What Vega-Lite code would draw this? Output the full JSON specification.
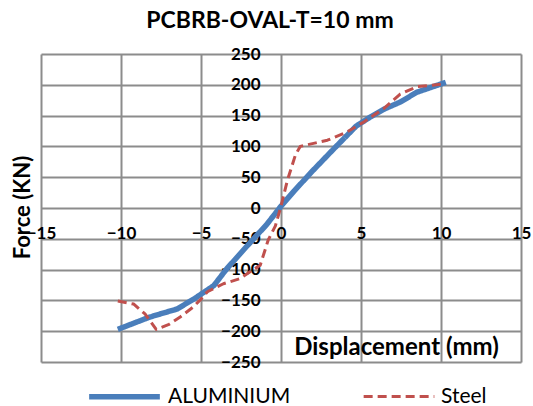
{
  "$schema": "https://vega.github.io/schema/vega-lite/v6.json",
  "autosize": {"type": "none"},
  "width": 480,
  "height": 308,
  "padding": {"left": 41, "top": 54, "right": 12, "bottom": 44},
  "background": "white",
  "title": {"text": "PCBRB-OVAL-T=10 mm", "font": "Lato", "fontSize": 23, "fontWeight": "bold", "color": "#000000", "anchor": "middle", "dx": -11, "offset": 12},
  "config": {
    "view": {"stroke": null},
    "font": "Lato"
  },
  "data": {
    "values": [
      {"series": "ALUMINIUM", "x": -10.2, "y": -197},
      {"series": "ALUMINIUM", "x": -8.2, "y": -177},
      {"series": "ALUMINIUM", "x": -6.5, "y": -164},
      {"series": "ALUMINIUM", "x": -5.4, "y": -147},
      {"series": "ALUMINIUM", "x": -4.2, "y": -126},
      {"series": "ALUMINIUM", "x": -3.4, "y": -99},
      {"series": "ALUMINIUM", "x": -2.1, "y": -61},
      {"series": "ALUMINIUM", "x": -0.9, "y": -27},
      {"series": "ALUMINIUM", "x": 0, "y": 3},
      {"series": "ALUMINIUM", "x": 0.8, "y": 27},
      {"series": "ALUMINIUM", "x": 2.0, "y": 61},
      {"series": "ALUMINIUM", "x": 3.3, "y": 96},
      {"series": "ALUMINIUM", "x": 4.7, "y": 133},
      {"series": "ALUMINIUM", "x": 5.6, "y": 148},
      {"series": "ALUMINIUM", "x": 6.4, "y": 160},
      {"series": "ALUMINIUM", "x": 7.45, "y": 172},
      {"series": "ALUMINIUM", "x": 8.5, "y": 188},
      {"series": "ALUMINIUM", "x": 10.3, "y": 204},
      {"series": "Steel", "x": -10.2, "y": -151},
      {"series": "Steel", "x": -9.2, "y": -156},
      {"series": "Steel", "x": -8.5, "y": -172},
      {"series": "Steel", "x": -7.8, "y": -197},
      {"series": "Steel", "x": -7.0, "y": -189},
      {"series": "Steel", "x": -6.3, "y": -177},
      {"series": "Steel", "x": -5.5, "y": -161},
      {"series": "Steel", "x": -5.0, "y": -148},
      {"series": "Steel", "x": -4.6, "y": -136},
      {"series": "Steel", "x": -3.6, "y": -123},
      {"series": "Steel", "x": -2.6, "y": -115},
      {"series": "Steel", "x": -1.3, "y": -93},
      {"series": "Steel", "x": -0.8, "y": -52},
      {"series": "Steel", "x": -0.35, "y": -29},
      {"series": "Steel", "x": 0, "y": 3},
      {"series": "Steel", "x": 0.4, "y": 45},
      {"series": "Steel", "x": 0.9, "y": 86},
      {"series": "Steel", "x": 1.2, "y": 100},
      {"series": "Steel", "x": 2.9, "y": 110},
      {"series": "Steel", "x": 4.1, "y": 123},
      {"series": "Steel", "x": 5.2, "y": 140},
      {"series": "Steel", "x": 6.4, "y": 161},
      {"series": "Steel", "x": 7.45, "y": 185},
      {"series": "Steel", "x": 8.5, "y": 197},
      {"series": "Steel", "x": 10.1, "y": 201}
    ]
  },
  "mark": {"type": "line", "strokeCap": "butt", "strokeJoin": "round"},
  "encoding": {
    "x": {
      "field": "x", "type": "quantitative",
      "scale": {"domain": [-15, 15], "nice": false, "zero": false},
      "axis": {
        "values": [-15, -10, -5, 0, 5, 10, 15],
        "offset": -154,
        "domain": false, "ticks": false,
        "grid": true, "gridColor": "#8c8c8c", "gridWidth": 2, "gridOpacity": 1,
        "labelFont": "Lato", "labelFontSize": 17, "labelFontWeight": "bold", "labelColor": "#000000",
        "labelPadding": 17, "labelOverlap": false, "labelFlush": false, "labelBound": false,
        "title": "Displacement  (mm)",
        "titleFont": "Lato", "titleFontSize": 24, "titleFontWeight": "bold", "titleColor": "#000000",
        "titleX": 355, "titleY": 139, "titleAlign": "center", "titleBaseline": "middle"
      }
    },
    "y": {
      "field": "y", "type": "quantitative",
      "scale": {"domain": [-250, 250], "nice": false, "zero": false},
      "axis": {
        "values": [-250, -200, -150, -100, -50, 0, 50, 100, 150, 200, 250],
        "offset": -240,
        "domain": false, "ticks": false,
        "grid": true, "gridColor": "#8c8c8c", "gridWidth": 2, "gridOpacity": 1,
        "labelFont": "Lato", "labelFontSize": 17, "labelFontWeight": "bold", "labelColor": "#000000",
        "labelPadding": 21, "labelOverlap": false, "labelFlush": false, "labelBound": false,
        "title": "Force (KN)",
        "titleFont": "Lato", "titleFontSize": 22, "titleFontWeight": "bold", "titleColor": "#000000",
        "titleX": -259, "titleY": 153, "titleAngle": -90, "titleAlign": "center", "titleBaseline": "middle"
      }
    },
    "color": {
      "field": "series", "type": "nominal",
      "scale": {"domain": ["ALUMINIUM", "Steel"], "range": ["#4a7ebb", "#c0504d"]},
      "legend": {
        "title": null, "orient": "none", "direction": "horizontal",
        "legendX": 45, "legendY": 304, "padding": 0,
        "symbolType": "stroke", "symbolSize": 5000,
        "labelFont": "Lato", "labelFontSize": 21, "labelColor": "#000000",
        "labelOffset": 5, "columnPadding": 66
      }
    },
    "strokeDash": {
      "field": "series", "type": "nominal",
      "scale": {"domain": ["ALUMINIUM", "Steel"], "range": [[1, 0], [9, 5]]}
    },
    "strokeWidth": {
      "field": "series", "type": "nominal",
      "scale": {"domain": ["ALUMINIUM", "Steel"], "range": [5.5, 3]}
    }
  }
}
